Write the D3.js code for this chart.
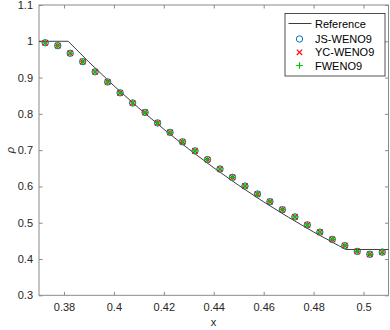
<!DOCTYPE html>
<html><head><meta charset="utf-8">
<script src="https://cdn.jsdelivr.net/npm/d3@7"></script>
<style>body{margin:0;background:#fff}svg{display:block}text{font-family:"Liberation Sans",Arial,sans-serif}</style>
</head><body><svg id="c" width="390" height="330"></svg>
<script>
const xCells = [0.3725,0.3775,0.3825,0.3875,0.3925,0.3975,0.4025,0.4075,0.4125,0.4175,0.4225,0.4275,0.4325,0.4375,0.4425,0.4475,0.4525,0.4575,0.4625,0.4675,0.4725,0.4775,0.4825,0.4875,0.4925,0.4975,0.5025,0.5075];
const jsWeno9 = [0.996,0.988,0.967,0.944,0.916,0.888,0.858,0.830,0.804,0.775,0.749,0.723,0.698,0.674,0.648,0.625,0.601,0.579,0.558,0.536,0.516,0.494,0.474,0.454,0.437,0.421,0.413,0.419];
const ycWeno9 = [0.996,0.988,0.967,0.944,0.916,0.888,0.858,0.830,0.804,0.775,0.749,0.723,0.698,0.674,0.648,0.625,0.601,0.579,0.558,0.536,0.516,0.494,0.474,0.454,0.437,0.421,0.413,0.419];
const fWeno9 = [0.996,0.988,0.967,0.944,0.916,0.888,0.858,0.830,0.804,0.775,0.749,0.723,0.698,0.674,0.648,0.625,0.601,0.579,0.558,0.536,0.516,0.494,0.474,0.454,0.437,0.421,0.413,0.419];
const refX = [0.37,0.3817,0.39,0.40,0.41,0.42,0.43,0.44,0.45,0.46,0.47,0.48,0.49,0.493,0.51];
const refY = [1,1,0.9428,0.8774,0.8158,0.7577,0.7029,0.6514,0.6029,0.5574,0.5147,0.4745,0.4370,0.4263,0.4263];
const xTicks = [0.38,0.4,0.42,0.44,0.46,0.48,0.5];
const yTicks = [0.3,0.4,0.5,0.6,0.7,0.8,0.9,1,1.1];
const legendLabels = ["Reference","JS-WENO9","YC-WENO9","FWENO9"];

const L=39,R=388.5,T=5,B=295.3;
const svg=d3.select("#c");
const x=d3.scaleLinear().domain([0.37,0.51]).range([L,R]);
const y=d3.scaleLinear().domain([0.3,1.1]).range([B,T]);
const axisCol="#8a8a8a", txtCol="#262626";
svg.append("rect").attr("x",L).attr("y",T).attr("width",R-L).attr("height",B-T).attr("fill","#fff");

function styleAxis(g){g.select(".domain").remove();g.selectAll(".tick line").attr("stroke",axisCol);g.selectAll(".tick text").attr("fill",txtCol).style("font-size","11px");}
svg.append("g").attr("transform",`translate(0,${B})`).call(d3.axisBottom(x).tickValues(xTicks).tickSizeInner(-3.5).tickPadding(8).tickFormat(d=>String(+d.toFixed(2)))).call(styleAxis);
svg.append("g").attr("transform",`translate(0,${T})`).call(d3.axisTop(x).tickValues(xTicks).tickSizeInner(-3.5).tickFormat("")).call(styleAxis);
svg.append("g").attr("transform",`translate(${L},0)`).call(d3.axisLeft(y).tickValues(yTicks).tickSizeInner(-3.5).tickPadding(6).tickFormat(d=>String(+d.toFixed(1)))).call(styleAxis);
svg.append("g").attr("transform",`translate(${R},0)`).call(d3.axisRight(y).tickValues(yTicks).tickSizeInner(-3.5).tickFormat("")).call(styleAxis);
svg.append("rect").attr("x",L).attr("y",T).attr("width",R-L).attr("height",B-T).attr("fill","none").attr("stroke",axisCol).attr("stroke-width",1);

const line=d3.line().x((d,i)=>x(refX[i])).y(d=>y(d));
svg.append("path").attr("d",line(refY)).attr("fill","none").attr("stroke","#262626").attr("stroke-width",0.9);

const blue="#0072BD",red="#FF0000",green="#00C800";
function circ(g,cx,cy){g.append("circle").attr("cx",cx).attr("cy",cy).attr("r",3.2).attr("fill","none").attr("stroke",blue).attr("stroke-width",1);}
function cross(g,cx,cy){const s=2.7;g.append("path").attr("d",`M${cx-s},${cy-s}L${cx+s},${cy+s}M${cx-s},${cy+s}L${cx+s},${cy-s}`).attr("stroke",red).attr("stroke-width",1.1);}
function plus(g,cx,cy){const s=3.3;g.append("path").attr("d",`M${cx-s},${cy}L${cx+s},${cy}M${cx},${cy-s}L${cx},${cy+s}`).attr("stroke",green).attr("stroke-width",1.2);}
const gm=svg.append("g");
xCells.forEach((xv,i)=>circ(gm,x(xv),y(jsWeno9[i])));
xCells.forEach((xv,i)=>cross(gm,x(xv),y(ycWeno9[i])));
xCells.forEach((xv,i)=>plus(gm,x(xv),y(fWeno9[i])));

svg.append("text").attr("x",213.5).attr("y",326).attr("text-anchor","middle").attr("fill",txtCol).style("font-size","11px").text("x");
svg.append("text").attr("transform","translate(14,150) rotate(-90)").attr("text-anchor","middle").attr("fill",txtCol).style("font-size","11px").style("font-style","italic").text("ρ");

const lg=svg.append("g");
lg.append("rect").attr("x",285).attr("y",13.5).attr("width",100).attr("height",62.5).attr("fill","#fff").attr("stroke","#262626").attr("stroke-width",0.8);
const ly=[23.5,39,52.3,65.5];
lg.append("line").attr("x1",288.5).attr("x2",311.5).attr("y1",ly[0]).attr("y2",ly[0]).attr("stroke","#262626").attr("stroke-width",0.9);
circ(lg,299.5,ly[1]);cross(lg,299.5,ly[2]);plus(lg,299.5,ly[3]);
legendLabels.forEach((t,i)=>lg.append("text").attr("x",315).attr("y",ly[i]+4).attr("fill","#000").style("font-size","11px").text(t));
</script></body></html>
